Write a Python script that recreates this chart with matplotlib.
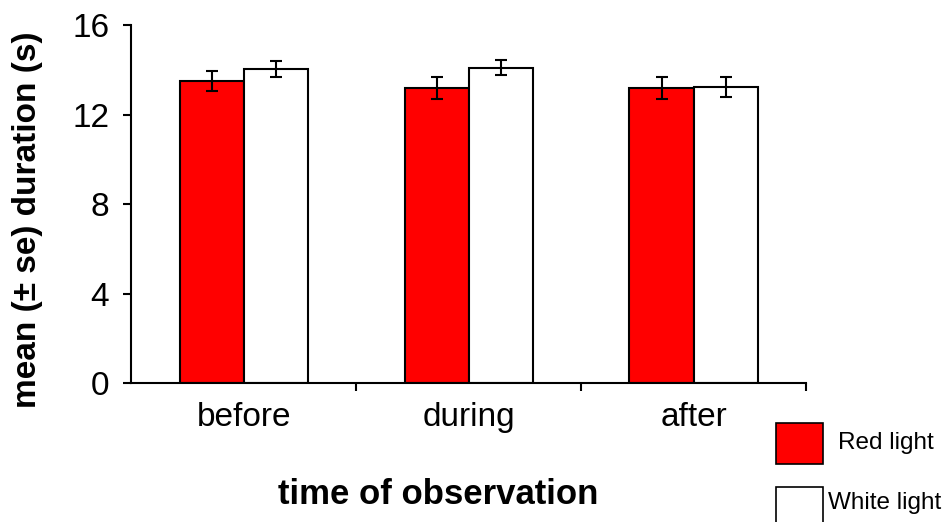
import matplotlib.pyplot as plt
import numpy as np
from matplotlib.patches import Rectangle

plt.rcParams['font.family'] = ['Liberation Sans', 'DejaVu Sans']

# data
categories = ['before', 'during', 'after']
red_mean = [13.5, 13.18, 13.18]
red_se = [0.45, 0.5, 0.5]
white_mean = [14.03, 14.1, 13.24]
white_se = [0.35, 0.33, 0.45]
series_names = ['Red light', 'White light']

fig = plt.figure(figsize=(9.5, 5.22), dpi=100)
ax = fig.add_axes([0.1384, 0.2663, 0.7100, 0.6855])

x = np.arange(len(categories))
w = 0.285
err_kw = dict(ecolor='black', elinewidth=1.5, capsize=4, capthick=1.5)
ax.bar(x - w / 2, red_mean, w, yerr=red_se, color='#ff0000',
       edgecolor='black', linewidth=1.5, error_kw=err_kw)
ax.bar(x + w / 2, white_mean, w, yerr=white_se, color='white',
       edgecolor='black', linewidth=1.5, error_kw=err_kw)

ax.set_xlim(-0.5, 2.5)
ax.set_ylim(0, 16)
ax.set_yticks([0, 4, 8, 12, 16])
ax.tick_params(axis='y', labelsize=24, width=1.5, length=6, pad=10)

# category labels between boundary ticks
ax.set_xticks([0.5, 1.5, 2.5])
ax.set_xticklabels([])
ax.set_xticks(x, minor=True)
ax.set_xticklabels(categories, minor=True, fontsize=24)
ax.tick_params(axis='x', which='major', width=1.5, length=6)
ax.tick_params(axis='x', which='minor', length=0, pad=14)

for s in ['top', 'right']:
    ax.spines[s].set_visible(False)
for s in ['left', 'bottom']:
    ax.spines[s].set_linewidth(1.5)

fig.text(28 / 950, 1 - 220 / 522, 'mean (± se) duration (s)', fontsize=24,
         fontweight='bold', rotation=90, ha='center', va='center')
fig.text(438 / 950, 1 - 494 / 522, 'time of observation', fontsize=25,
         fontweight='bold', ha='center', va='center')

# legend, drawn by hand as in the reference
fig.patches.append(Rectangle((776 / 950, 1 - 464 / 522), 47 / 950, 41 / 522,
                             transform=fig.transFigure, facecolor='#ff0000',
                             edgecolor='black', linewidth=1.2))
fig.patches.append(Rectangle((776 / 950, 1 - 530 / 522), 47 / 950, 43 / 522,
                             transform=fig.transFigure, facecolor='white',
                             edgecolor='black', linewidth=1.2))
fig.text(838 / 950, 1 - 443 / 522, series_names[0], fontsize=17.5, va='center')
fig.text(828 / 950, 1 - 503 / 522, series_names[1], fontsize=17.5, va='center')

fig.savefig('out.png', dpi=100)
